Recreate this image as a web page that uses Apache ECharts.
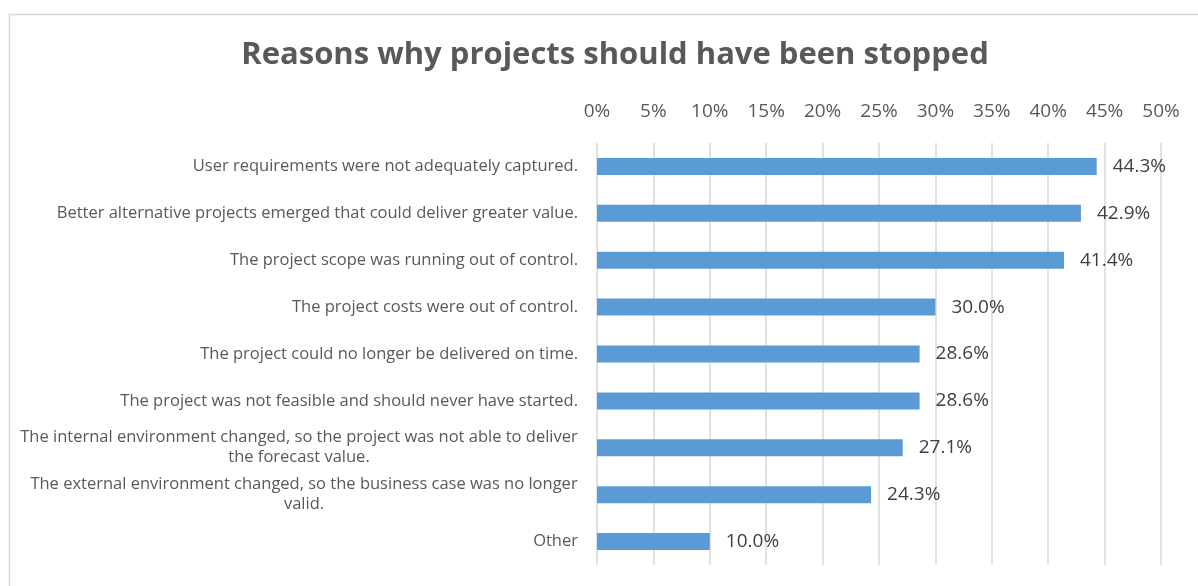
<!DOCTYPE html>
<html>
<head>
<meta charset="utf-8">
<script src="https://cdn.jsdelivr.net/npm/echarts@6/dist/echarts.min.js"></script>
<style>
  html, body { margin: 0; padding: 0; background: #fff; }
  #chart { width: 1198px; height: 586px; }
</style>
</head>
<body>
<div id="chart"></div>
<script>
// Reasons, listed top to bottom
const reasons = [
  'User requirements were not adequately captured.',
  'Better alternative projects emerged that could deliver greater value.',
  'The project scope was running out of control.',
  'The project costs were out of control.',
  'The project could no longer be delivered on time.',
  'The project was not feasible and should never have started.',
  'The internal environment changed, so the project was not able to deliver the forecast value.',
  'The external environment changed, so the business case was no longer valid.',
  'Other'
];
// Share of respondents, in percent
const shares = [44.3, 42.9, 41.4, 30.0, 28.6, 28.6, 27.1, 24.3, 10.0];
// Percentage axis ticks
const axisMin = 0;
const axisMax = 50;
const axisStep = 5;

const FONT = '"Open Sans"';
const LABEL_SIZE = 16.5;
const WRAP_WIDTH = 570;

// Greedy word wrap measured with the label font
const ctx = document.createElement('canvas').getContext('2d');
ctx.font = LABEL_SIZE + 'px ' + FONT;
function wrapLines(text) {
  const words = text.split(' ');
  const lines = [];
  let cur = '';
  words.forEach(w => {
    const next = cur ? cur + ' ' + w : w;
    if (cur && ctx.measureText(next).width > WRAP_WIDTH) {
      lines.push(cur);
      cur = w;
    } else {
      cur = next;
    }
  });
  if (cur) lines.push(cur);
  return lines;
}
function blockWidth(lines) {
  return Math.ceil(Math.max.apply(null, lines.map(l => ctx.measureText(l).width)));
}

// One rich style per wrapped label, as wide as its longest line, so the lines centre under each other
const wrappedStyles = {};
reasons.forEach(v => {
  const lines = wrapLines(v);
  if (lines.length > 1) {
    const w = blockWidth(lines);
    wrappedStyles['c' + w] = { width: w, align: 'center', fontSize: LABEL_SIZE, color: '#595959', fontFamily: FONT, lineHeight: 20 };
  }
});

const chart = echarts.init(document.getElementById('chart'), null, { renderer: 'canvas' });

chart.setOption({
  backgroundColor: '#ffffff',
  textStyle: { fontFamily: FONT },
  graphic: [{
    type: 'rect',
    left: 7, top: 12,
    shape: { width: 1300, height: 700 },
    style: { fill: 'none', stroke: '#d9d9d9', lineWidth: 1.5 },
    silent: true, z: -1
  }],
  title: {
    text: 'Reasons why projects should have been stopped',
    left: 610, top: 35,
    textAlign: 'center',
    textStyle: { fontFamily: FONT, fontSize: 31, fontWeight: 'bold', color: '#595959' }
  },
  grid: { left: 597, right: 37, top: 143, bottom: 21, containLabel: false },
  xAxis: {
    type: 'value',
    position: 'top',
    min: axisMin, max: axisMax, interval: axisStep,
    axisLine: { show: false },
    axisTick: { show: false },
    splitLine: { show: true, lineStyle: { color: '#d9d9d9', width: 1.5 } },
    axisLabel: {
      formatter: '{value}%',
      fontSize: 19, color: '#595959', fontFamily: FONT, margin: 22
    }
  },
  yAxis: {
    type: 'category',
    inverse: true,
    data: reasons,
    axisLine: { show: false },
    axisTick: { show: false },
    axisLabel: {
      margin: 19,
      fontSize: LABEL_SIZE, color: '#595959', fontFamily: FONT,
      lineHeight: 20,
      formatter: function (v) {
        const lines = wrapLines(v);
        if (lines.length === 1) return v;
        const w = blockWidth(lines);
        return lines.map(l => '{c' + w + '|' + l + '}').join('\n');
      },
      rich: wrappedStyles
    }
  },
  series: [{
    type: 'bar',
    data: shares,
    barWidth: 17,
    itemStyle: { color: '#5b9bd5' },
    label: {
      show: true,
      position: 'right',
      distance: 16,
      formatter: p => p.value.toFixed(1) + '%',
      fontSize: 19, color: '#404040', fontFamily: FONT
    },
    silent: true,
    animation: false
  }],
  animation: false
});
</script>
</body>
</html>
